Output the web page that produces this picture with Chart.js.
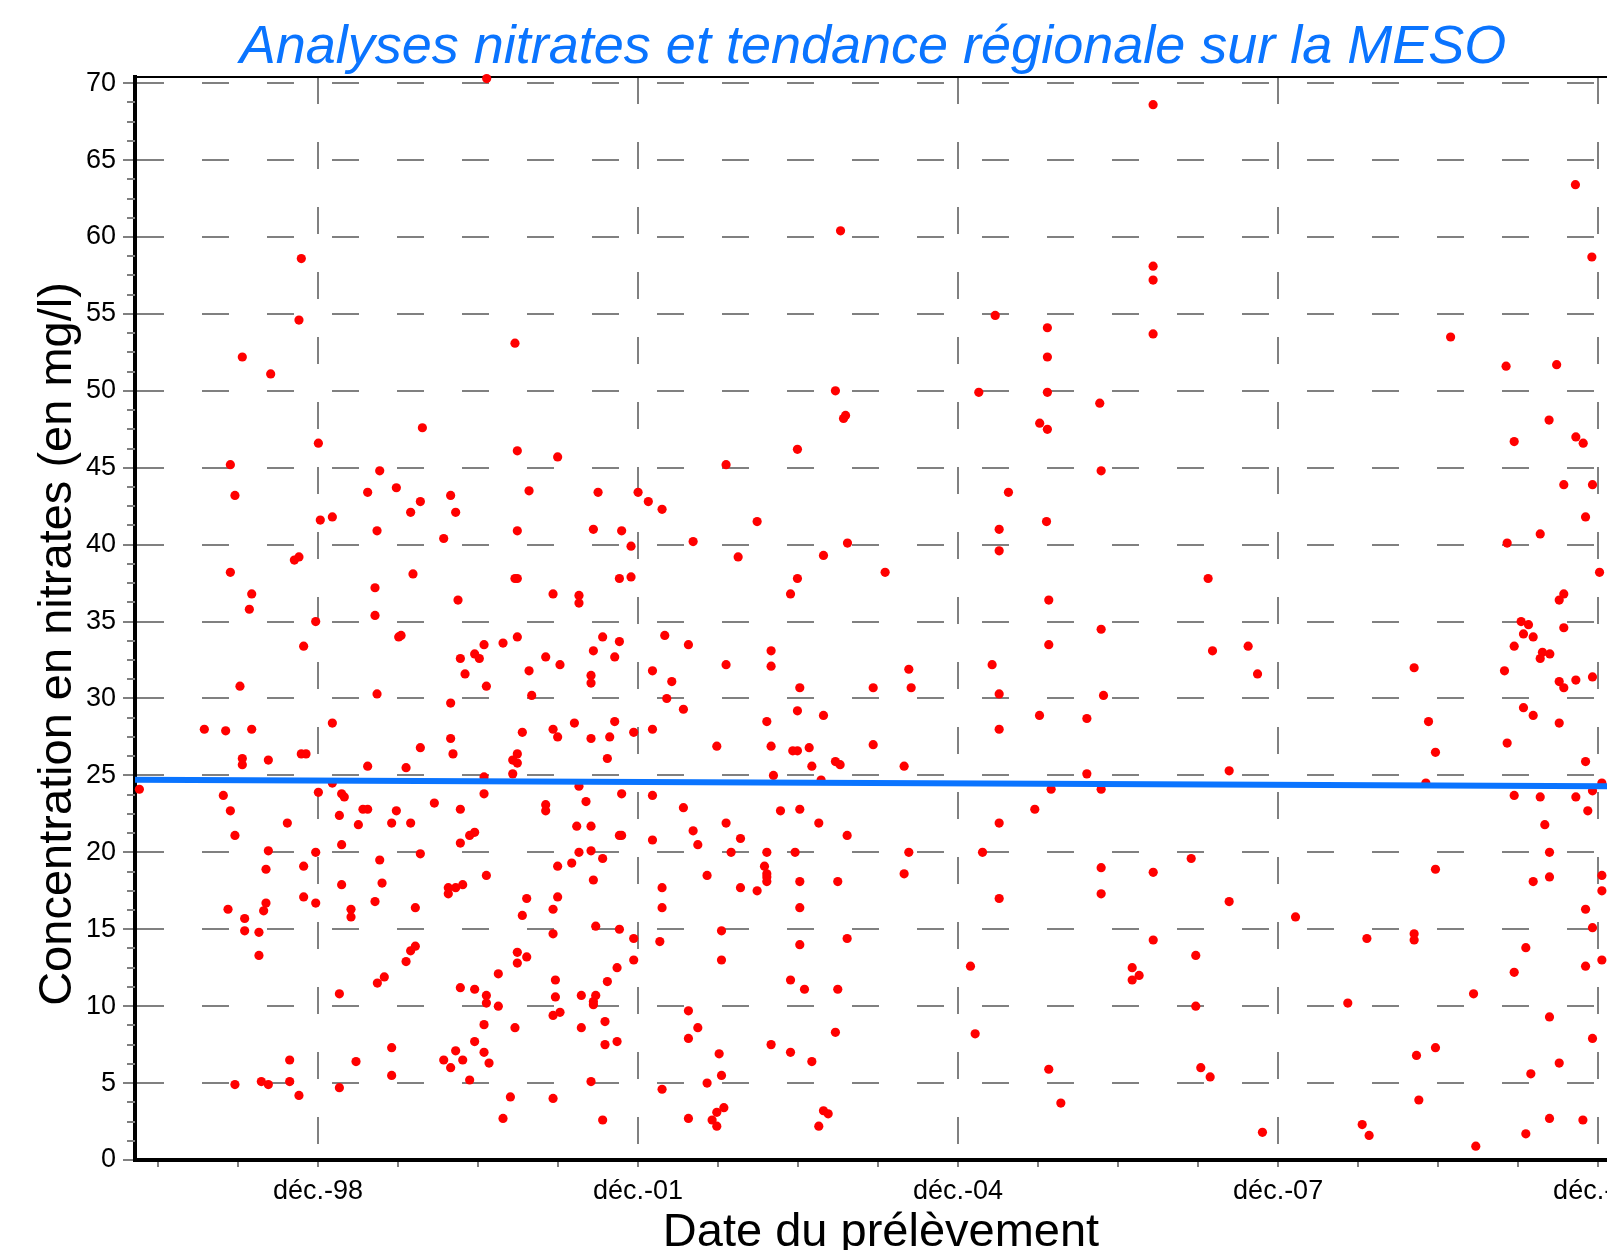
<!DOCTYPE html>
<html lang="fr">
<head>
<meta charset="utf-8">
<title>Analyses nitrates</title>
<script src="https://cdn.jsdelivr.net/npm/chart.js@4.4.0/dist/chart.umd.min.js"></script>
<style>
  html, body { margin: 0; padding: 0; background: #fff; overflow: hidden; }
  #wrap { position: relative; width: 1607px; height: 1250px; overflow: hidden; }
  #nitrates { position: absolute; left: 0; top: 0; }
</style>
</head>
<body>
<div id="wrap"><canvas id="nitrates" width="1700" height="1300"></canvas></div>
<script>
// texts
const chartTitle = "Analyses nitrates et tendance régionale sur la MESO";
const xAxisTitle = "Date du prélèvement";
const yAxisTitle = "Concentration en nitrates (en mg/l)";

// x axis: decimal years, labelled ticks every december (3 years)
const xMajorTicks = [1998.917, 2001.917, 2004.917, 2007.917, 2010.917];
const xMajorLabels = ["déc.-98", "déc.-01", "déc.-04", "déc.-07", "déc.-10"];
const yTickValues = [0, 5, 10, 15, 20, 25, 30, 35, 40, 45, 50, 55, 60, 65, 70];

// regional trend (start, end)
const trendYears = [1997.2, 2011.0];
const trendValues = [24.72, 24.3];

// samples [decimal year, mg/l]
const samples97to01High = [
  [2000.498, 70.3], [1998.760, 58.6], [1998.738, 54.6], [1998.207, 52.2], [1998.473, 51.1], [2000.763, 53.1], [1999.895, 47.6],
  [1998.920, 46.6], [1998.095, 45.2], [1998.138, 43.2], [2000.785, 46.1], [2001.163, 45.7], [1999.495, 44.8], [1999.382, 43.4],
  [1999.651, 43.7], [1999.876, 42.8], [1999.785, 42.1], [2000.160, 43.2], [2000.207, 42.1], [2000.895, 43.5], [2001.542, 43.4],
  [2001.917, 43.4], [2002.013, 42.8], [1998.938, 41.6], [1999.051, 41.8], [1999.470, 40.9], [2000.785, 40.9], [2001.498, 41.0],
  [2001.763, 40.9], [2001.851, 39.9], [2000.095, 40.4], [1998.695, 39.0], [1998.738, 39.2], [1998.095, 38.2], [1999.807, 38.1],
  [2000.763, 37.8], [2000.785, 37.8], [2001.742, 37.8], [2001.851, 37.9], [1999.451, 37.2], [1998.295, 36.8], [1998.273, 35.8],
  [2000.229, 36.4], [2001.120, 36.8], [2001.363, 36.7], [2001.363, 36.2], [1998.895, 35.0], [1999.451, 35.4], [1998.782, 33.4],
  [1999.673, 34.0], [1999.695, 34.1], [2000.251, 32.6], [2000.385, 32.9], [2000.429, 32.6], [2000.473, 33.5], [2000.651, 33.6],
  [2000.785, 34.0], [2000.295, 31.6], [2000.495, 30.8], [2000.895, 31.8], [2001.051, 32.7], [2001.185, 32.2], [2001.585, 34.0],
  [2001.742, 33.7], [2001.498, 33.1], [2001.698, 32.7], [2001.476, 31.5], [2001.476, 31.0], [1998.185, 30.8], [1999.470, 30.3],
  [2000.160, 29.7], [2000.920, 30.2], [1997.851, 28.0], [1998.051, 27.9], [1998.295, 28.0], [1999.051, 28.4], [2000.160, 27.4],
  [1999.876, 26.8], [2000.182, 26.4], [2000.832, 27.8], [2001.120, 28.0], [2001.163, 27.5], [2001.320, 28.4], [2001.476, 27.4],
  [2001.651, 27.5], [2001.698, 28.5], [2001.876, 27.8], [1998.207, 26.1], [1998.207, 25.7], [1998.451, 26.0], [1998.760, 26.4],
  [1998.804, 26.4], [1999.382, 25.6], [1999.742, 25.5], [2000.785, 26.4], [2000.742, 26.0], [2000.785, 25.8], [2000.742, 25.1],
  [2001.629, 26.1], [1997.242, 24.1], [1998.029, 23.7], [1998.920, 23.9], [1999.051, 24.5], [1999.138, 23.8], [1999.163, 23.6],
  [2000.473, 23.8], [2001.363, 24.3], [2001.763, 23.8], [2000.473, 24.9]
];
const samples97to01Low = [
  [2001.429, 23.3], [1998.095, 22.7], [1998.138, 21.1], [1998.629, 21.9], [1999.117, 22.4], [1999.338, 22.8], [1999.382, 22.8],
  [1999.295, 21.8], [1999.651, 22.7], [1999.607, 21.9], [1999.785, 21.9], [2000.007, 23.2], [2000.251, 22.8], [2001.051, 23.1],
  [2001.051, 22.7], [2001.342, 21.7], [2001.476, 21.7], [2001.742, 21.1], [2001.763, 21.1], [2000.251, 20.6], [2000.338, 21.1],
  [2000.385, 21.3], [1999.138, 20.5], [1998.451, 20.1], [1998.895, 20.0], [1999.876, 19.9], [2001.363, 20.0], [2001.476, 20.1],
  [2001.585, 19.6], [2001.163, 19.1], [2001.295, 19.3], [2001.498, 18.2], [1998.429, 18.9], [1998.782, 19.1], [1999.495, 19.5],
  [1999.138, 17.9], [1999.517, 18.0], [2000.495, 18.5], [2000.138, 17.7], [2000.207, 17.7], [2000.273, 17.9], [2000.138, 17.3],
  [1998.782, 17.1], [1998.895, 16.7], [1998.429, 16.7], [1998.407, 16.2], [1998.073, 16.3], [1998.229, 15.7], [1998.229, 14.9],
  [1998.363, 14.8], [1998.363, 13.3], [1999.226, 16.3], [1999.226, 15.8], [1999.451, 16.8], [1999.829, 16.4], [2000.873, 17.0],
  [2001.163, 17.1], [2001.120, 16.3], [2000.832, 15.9], [2001.520, 15.2], [2001.742, 15.0], [2001.120, 14.7], [2001.876, 14.4],
  [2001.876, 13.0], [1999.785, 13.6], [1999.829, 13.9], [1999.742, 12.9], [2000.785, 13.5], [2000.873, 13.2], [2000.785, 12.8],
  [2000.607, 12.1], [2001.720, 12.5], [2001.629, 11.6], [2001.142, 11.7], [1999.473, 11.5], [1999.538, 11.9], [1999.117, 10.8],
  [2000.251, 11.2], [2000.385, 11.1], [2000.495, 10.7], [2000.495, 10.2], [2000.607, 10.0], [2001.142, 10.6], [2001.385, 10.7],
  [2001.520, 10.7], [2001.498, 10.3], [2001.498, 10.1], [2001.120, 9.4], [2001.185, 9.6], [2000.473, 8.8], [2000.763, 8.6],
  [2001.385, 8.6], [2001.607, 9.0], [2000.385, 7.7], [2000.473, 7.0], [2000.520, 6.3], [2000.207, 7.1], [2000.095, 6.5],
  [2000.273, 6.5], [2000.160, 6.0], [2000.338, 5.2], [2001.607, 7.5], [2001.720, 7.7], [2001.476, 5.1], [1999.607, 7.3],
  [1999.607, 5.5], [1999.273, 6.4], [1998.651, 6.5], [1998.651, 5.1], [1998.385, 5.1], [1998.451, 4.9], [1998.138, 4.9],
  [1998.738, 4.2], [1999.117, 4.7], [2000.720, 4.1], [2001.120, 4.0], [2000.651, 2.7], [2001.585, 2.6]
];
const samples02to06High = [
  [2003.815, 60.4], [2003.767, 50.0], [2003.862, 48.4], [2003.843, 48.2], [2005.111, 49.9], [2005.265, 54.9], [2005.754, 54.1],
  [2005.754, 52.2], [2005.754, 49.9], [2005.754, 47.5], [2005.682, 47.9], [2006.245, 49.2], [2006.745, 68.6], [2006.745, 58.1],
  [2006.745, 57.2], [2006.745, 53.7],
  [2003.411, 46.2], [2002.742, 45.2], [2006.258, 44.8], [2002.142, 42.3], [2005.389, 43.4], [2003.033, 41.5], [2005.746, 41.5],
  [2005.302, 41.0], [2002.433, 40.2], [2003.880, 40.1], [2002.855, 39.2], [2003.655, 39.3], [2005.302, 39.6], [2004.233, 38.2],
  [2003.411, 37.8], [2003.346, 36.8], [2005.767, 36.4], [2002.167, 34.1], [2002.389, 33.5], [2006.258, 34.5], [2005.767, 33.5],
  [2003.164, 33.1], [2002.742, 32.2], [2003.164, 32.1], [2004.455, 31.9], [2005.236, 32.2], [2002.052, 31.8], [2002.233, 31.1],
  [2002.186, 30.0], [2002.342, 29.3], [2003.433, 30.7], [2004.121, 30.7], [2004.477, 30.7], [2005.302, 30.3], [2006.280, 30.2],
  [2003.411, 29.2], [2003.655, 28.9], [2003.124, 28.5], [2005.680, 28.9], [2006.124, 28.7], [2002.052, 28.0], [2005.302, 28.0],
  [2002.655, 26.9], [2003.164, 26.9], [2003.367, 26.6], [2003.411, 26.6], [2003.521, 26.8], [2004.121, 27.0], [2003.546, 25.6],
  [2003.767, 25.9], [2003.811, 25.7], [2004.411, 25.6], [2003.186, 25.0], [2003.633, 24.7], [2006.124, 25.1], [2002.052, 23.7],
  [2005.789, 24.1], [2006.258, 24.1]
];
const samples02to06Low = [
  [2002.342, 22.9], [2003.252, 22.7], [2003.433, 22.8], [2002.742, 21.9], [2003.611, 21.9], [2002.433, 21.4], [2002.052, 20.8],
  [2002.477, 20.5], [2002.877, 20.9], [2003.877, 21.1], [2002.789, 20.0], [2003.124, 20.0], [2003.389, 20.0], [2004.455, 20.0],
  [2005.146, 20.0], [2005.302, 21.9], [2005.636, 22.8], [2003.102, 19.1], [2003.124, 18.6], [2003.124, 18.4], [2003.124, 18.1],
  [2002.564, 18.5], [2002.142, 17.7], [2002.877, 17.7], [2003.033, 17.5], [2003.433, 18.1], [2003.789, 18.1], [2004.411, 18.6],
  [2006.258, 19.0], [2006.746, 18.7], [2006.258, 17.3], [2005.302, 17.0], [2002.142, 16.4], [2003.433, 16.4], [2002.699, 14.9],
  [2002.121, 14.2], [2003.433, 14.0], [2003.877, 14.4], [2006.746, 14.3], [2002.699, 13.0], [2005.033, 12.6], [2006.549, 12.5],
  [2006.614, 12.0], [2006.549, 11.7], [2003.346, 11.7], [2003.477, 11.1], [2003.789, 11.1], [2002.389, 9.7], [2002.477, 8.6],
  [2002.389, 7.9], [2003.767, 8.3], [2005.077, 8.2], [2003.164, 7.5], [2003.346, 7.0], [2003.546, 6.4], [2002.677, 6.9],
  [2002.699, 5.5], [2002.564, 5.0], [2002.142, 4.6], [2005.767, 5.9], [2005.880, 3.7], [2002.721, 3.4], [2002.655, 3.1],
  [2002.611, 2.6], [2002.655, 2.2], [2002.389, 2.7], [2003.655, 3.2], [2003.699, 3.0], [2003.611, 2.2]
];
const samples07to10High = [
  [2010.704, 63.4], [2010.858, 58.7], [2009.534, 53.5], [2010.054, 51.6], [2010.528, 51.7], [2010.457, 48.1],
  [2010.130, 46.7], [2010.708, 47.0], [2010.777, 46.6], [2010.595, 43.9], [2010.864, 43.9], [2010.799, 41.8], [2010.374, 40.7],
  [2010.064, 40.1], [2010.930, 38.2], [2007.261, 37.8], [2010.595, 36.8], [2010.552, 36.4], [2010.195, 35.0], [2010.264, 34.8],
  [2010.217, 34.2], [2010.308, 34.0], [2010.595, 34.6], [2010.130, 33.4], [2010.395, 33.0], [2010.464, 32.9], [2010.374, 32.6],
  [2007.302, 33.1], [2007.636, 33.4], [2007.724, 31.6], [2009.192, 32.0], [2010.039, 31.8], [2010.552, 31.1], [2010.595, 30.7],
  [2010.708, 31.2], [2010.864, 31.4], [2010.217, 29.4], [2010.308, 28.9], [2009.327, 28.5], [2010.552, 28.4], [2010.064, 27.1],
  [2009.392, 26.5], [2010.799, 25.9], [2007.458, 25.3], [2009.302, 24.5], [2010.952, 24.5], [2010.130, 23.7], [2010.374, 23.6],
  [2010.708, 23.6], [2010.864, 24.0]
];
const samples07to10Low = [
  [2010.820, 22.7], [2010.417, 21.8], [2010.461, 20.0], [2007.102, 19.6], [2009.392, 18.9], [2010.308, 18.1], [2010.461, 18.4],
  [2010.952, 18.5], [2010.952, 17.5], [2007.458, 16.8], [2010.799, 16.3], [2008.080, 15.8], [2010.864, 15.1], [2008.749, 14.4],
  [2009.192, 14.7], [2009.192, 14.3], [2007.145, 13.3], [2010.239, 13.8], [2010.130, 12.2], [2010.799, 12.6], [2010.952, 13.0],
  [2007.145, 10.0], [2008.570, 10.2], [2009.749, 10.8], [2010.461, 9.3], [2010.864, 7.9], [2009.392, 7.3], [2009.214, 6.8],
  [2010.552, 6.3], [2010.286, 5.6], [2007.192, 6.0], [2007.280, 5.4], [2009.236, 3.9], [2007.770, 1.8], [2008.705, 2.3],
  [2008.770, 1.6], [2009.770, 0.9], [2010.461, 2.7], [2010.774, 2.6], [2010.239, 1.7]
];

const allSamples = [
  ...samples97to01High, ...samples97to01Low,
  ...samples02to06High, ...samples02to06Low,
  ...samples07to10High, ...samples07to10Low
].map(([x, y]) => ({ x, y }));

const trendPoints = trendYears.map((x, i) => ({ x, y: trendValues[i] }));

// x ticks: one every 9 months around the labelled decembers
const xTickValues = [];
for (let k = -2; k <= 16; k++) {
  xTickValues.push(+(xMajorTicks[0] + k * 0.75).toFixed(3));
}
const isMajorX = (v) => xMajorTicks.some((m) => Math.abs(m - v) < 1e-3);
const labelForX = (v) => {
  const i = xMajorTicks.findIndex((m) => Math.abs(m - v) < 1e-3);
  return i >= 0 ? xMajorLabels[i] : "";
};

const GRID_GREY = "#808080";
const FONT = "'Liberation Sans', Arial, sans-serif";

const extras = {
  id: "extras",
  beforeDatasetsDraw(chart) {
    const { ctx, chartArea: a, scales } = chart;
    ctx.save();
    // thin top frame
    ctx.strokeStyle = "#000";
    ctx.lineWidth = 2;
    ctx.beginPath();
    ctx.moveTo(a.left, a.top);
    ctx.lineTo(a.right, a.top);
    ctx.stroke();
    // minor y ticks
    ctx.strokeStyle = GRID_GREY;
    for (let v = 1.25; v < 70; v += 1.25) {
      if (v % 5 === 0) continue;
      const py = Math.round(scales.y.getPixelForValue(v));
      ctx.beginPath();
      ctx.moveTo(a.left - 8, py);
      ctx.lineTo(a.left, py);
      ctx.stroke();
    }
    ctx.restore();
  },
  afterDraw(chart) {
    const { ctx } = chart;
    ctx.save();
    ctx.textAlign = "center";
    ctx.textBaseline = "alphabetic";

    ctx.fillStyle = "#0A74FF";
    ctx.font = "italic 54px " + FONT;
    ctx.fillText(chartTitle, 873, 63);

    ctx.fillStyle = "#000";
    ctx.font = "47px " + FONT;
    ctx.fillText(xAxisTitle, 881, 1246);

    ctx.translate(71, 644);
    ctx.rotate(-Math.PI / 2);
    ctx.fillText(yAxisTitle, 0, 0);
    ctx.restore();
  }
};

new Chart(document.getElementById("nitrates"), {
  type: "scatter",
  data: {
    datasets: [
      {
        label: "Tendance régionale",
        data: trendPoints,
        showLine: true,
        borderColor: "#0A74FF",
        borderWidth: 6,
        pointRadius: 0,
        fill: false
      },
      {
        label: "Analyses nitrates",
        data: allSamples,
        backgroundColor: "#FF0000",
        borderWidth: 0,
        pointRadius: 4.6,
        clip: false
      }
    ]
  },
  options: {
    responsive: false,
    animation: false,
    events: [],
    layout: { padding: { top: 77, right: 93, bottom: 0, left: 0 } },
    plugins: { legend: { display: false }, tooltip: { enabled: false } },
    scales: {
      x: {
        type: "linear",
        min: 1997.201,
        max: 2011.0,
        afterBuildTicks: (s) => { s.ticks = xTickValues.map((value) => ({ value })); },
        afterFit: (s) => { s.height = 140; },
        grid: {
          color: (c) => (c.tick && isMajorX(c.tick.value) ? GRID_GREY : "rgba(0,0,0,0)"),
          lineWidth: 2,
          tickColor: GRID_GREY,
          tickWidth: 2,
          tickLength: 7
        },
        border: { display: true, color: "#000", width: 4, dash: [27, 38] },
        ticks: {
          autoSkip: false,
          maxRotation: 0,
          minRotation: 0,
          padding: 8,
          color: "#000",
          font: { family: FONT, size: 27 },
          callback: (v) => labelForX(v)
        }
      },
      y: {
        type: "linear",
        min: 0,
        max: 70.4,
        afterBuildTicks: (s) => { s.ticks = yTickValues.map((value) => ({ value })); },
        afterFit: (s) => { s.width = 135; },
        grid: {
          color: (c) => (c.tick && c.tick.value === 0 ? "rgba(0,0,0,0)" : GRID_GREY),
          lineWidth: 2,
          tickColor: GRID_GREY,
          tickWidth: 2,
          tickLength: 12
        },
        border: { display: true, color: "#000", width: 4, dash: [27, 38] },
        ticks: {
          autoSkip: false,
          padding: 7,
          color: "#000",
          font: { family: FONT, size: 27 },
          callback: (v) => String(v)
        }
      }
    }
  },
  plugins: [extras]
});
</script>
</body>
</html>
